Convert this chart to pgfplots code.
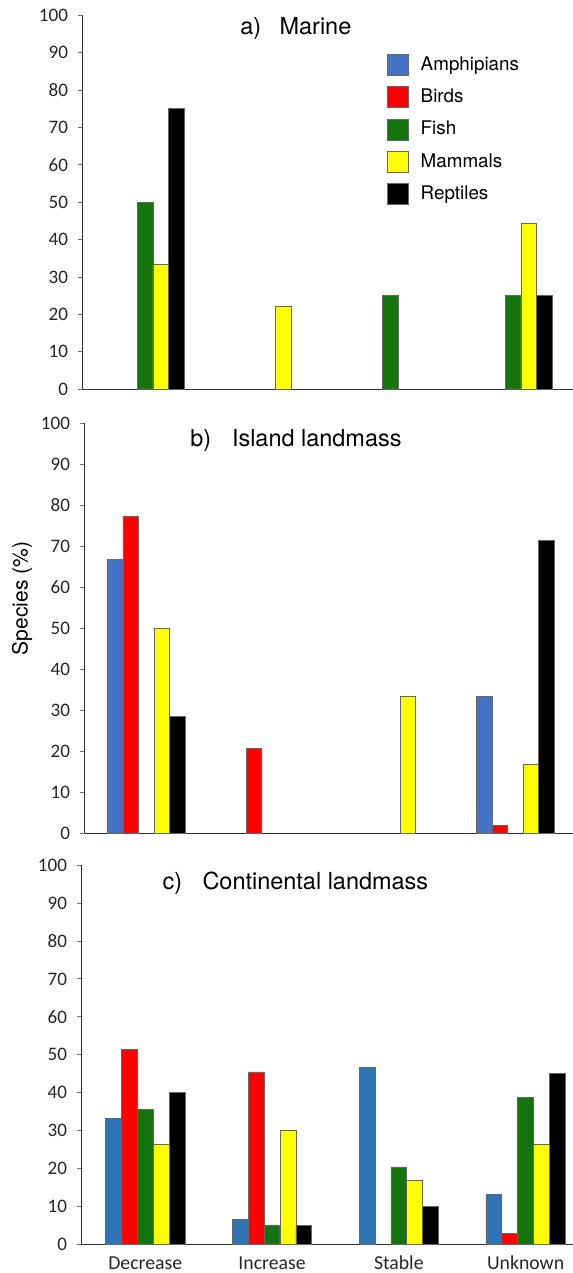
\documentclass[border=0pt]{standalone}
\usepackage{fontspec}
\setmainfont{TeX Gyre Heros}
\newfontfamily\carlito{Carlito}
\usepackage{pgfplots}
\usepackage{pgfplotstable}
\pgfplotsset{compat=1.18}
\definecolor{amphA}{RGB}{68,114,196}
\definecolor{amphC}{RGB}{46,117,182}
\definecolor{birdc}{RGB}{255,0,0}
\definecolor{fishc}{RGB}{22,116,14}
\definecolor{mammc}{RGB}{255,255,0}
\definecolor{reptc}{RGB}{0,0,0}
\definecolor{axisc}{RGB}{45,45,45}

\pgfplotstableread{
x amph bird fish mamm rept
0 nan nan 50 33.3 75
1 nan nan nan 22.2 nan
2 nan nan 25 nan nan
3 nan nan 25 44.4 25
}\tabA
\pgfplotstableread{
x amph bird fish mamm rept
0 66.7 77.3 nan 50 28.6
1 nan 20.7 nan nan nan
2 nan nan nan 33.3 nan
3 33.3 2.0 nan 16.7 71.4
}\tabB
\pgfplotstableread{
x amph bird fish mamm rept
0 33.3 51.5 35.7 26.5 40
1 6.7 45.5 5.2 30.2 5
2 46.7 nan 20.5 17.0 10
3 13.3 3.0 38.8 26.5 45
}\tabC

\pgfplotsset{
  panel/.style={
    scale only axis, ymin=0, ymax=100, ytick={0,10,...,100},
    axis x line=bottom, axis y line=left,
    axis line style={-, draw=axisc, line width=1.1pt},
    tick align=outside, major tick length=3.75pt,
    ytick style={draw=black!55, line width=0.6pt},
    xtick style={draw=none},
    yticklabel style={font=\carlito\fontsize{14.3}{14.3}\selectfont, text=black!85, anchor=east, inner sep=0pt, xshift=-7.1pt},
    /pgf/number format/assume math mode=true,
    clip=false,
  },
  bars/.style={ybar, draw=black!60, line width=0.5pt, forget plot},
}

\begin{document}
\begin{tikzpicture}
\path[use as bounding box] (0,0) rectangle (429.75pt,954.75pt);

% ---------- a) Marine ----------
\begin{axis}[panel,
  at={(62.03pt,662.78pt)}, anchor=south west,
  width=367.73pt, height=280.5pt,
  xmin=-0.508, xmax=3.488, xtick=\empty,
  legend image code/.code={\draw[#1] (0pt,-7.875pt) rectangle (15.75pt,7.875pt);},
  legend cell align=left,
  legend style={at={(0.6213,0.8965)}, anchor=north west, draw=none, fill=none,
    inner sep=0pt, outer sep=0pt, row sep=8pt,
    font=\fontsize{14.1}{14.1}\selectfont,
    nodes={inner sep=0pt, text height=12pt, text depth=4pt},
    /tikz/every odd column/.append style={column sep=8.8pt}},
]
\addlegendimage{fill=amphA, draw=black!60, line width=0.5pt}
\addlegendimage{fill=birdc, draw=black!60, line width=0.5pt}
\addlegendimage{fill=fishc, draw=black!60, line width=0.5pt}
\addlegendimage{fill=mammc, draw=black!60, line width=0.5pt}
\addlegendimage{fill=reptc, draw=black!60, line width=0.5pt}
\legend{Amphipians,Birds,Fish,Mammals,Reptiles}
\addplot[bars, bar width=11.7pt, bar shift=0pt, fill=fishc] table[x=x,y=fish] {\tabA};
\addplot[bars, bar width=11.7pt, bar shift=11.7pt, fill=mammc] table[x=x,y=mamm] {\tabA};
\addplot[bars, bar width=11.7pt, bar shift=23.4pt, fill=reptc] table[x=x,y=rept] {\tabA};
\end{axis}

% ---------- b) Island landmass ----------
\begin{axis}[panel,
  at={(63.53pt,329.78pt)}, anchor=south west,
  width=366.23pt, height=307.5pt,
  xmin=-0.4996, xmax=3.467, xtick=\empty,
]
\addplot[bars, bar width=11.63pt, bar shift=-23.25pt, fill=amphA] table[x=x,y=amph] {\tabB};
\addplot[bars, bar width=11.63pt, bar shift=-11.63pt, fill=birdc] table[x=x,y=bird] {\tabB};
\addplot[bars, bar width=11.63pt, bar shift=11.63pt, fill=mammc] table[x=x,y=mamm] {\tabB};
\addplot[bars, bar width=11.63pt, bar shift=23.25pt, fill=reptc] table[x=x,y=rept] {\tabB};
\end{axis}

% ---------- c) Continental landmass ----------
\begin{axis}[panel,
  at={(61.28pt,21.23pt)}, anchor=south west,
  width=368.48pt, height=284.78pt,
  xmin=-0.5008, xmax=3.374,
  xtick={0,1,2,3}, xticklabels={Decrease,Increase,Stable,Unknown},
  xticklabel style={font=\carlito\fontsize{14.8}{14.8}\selectfont, text=black!85, anchor=base, text depth=0pt, yshift=-15pt},
]
\addplot[bars, bar width=11.93pt, bar shift=-23.85pt, fill=amphC] table[x=x,y=amph] {\tabC};
\addplot[bars, bar width=11.93pt, bar shift=-11.93pt, fill=birdc] table[x=x,y=bird] {\tabC};
\addplot[bars, bar width=11.93pt, bar shift=0pt, fill=fishc] table[x=x,y=fish] {\tabC};
\addplot[bars, bar width=11.93pt, bar shift=11.93pt, fill=mammc] table[x=x,y=mamm] {\tabC};
\addplot[bars, bar width=11.93pt, bar shift=23.85pt, fill=reptc] table[x=x,y=rept] {\tabC};
\end{axis}

% titles
\begin{scope}[every node/.style={anchor=base west, inner sep=0pt, font=\fontsize{17.6}{17.6}\selectfont}]
\node at (180pt,928.5pt) {a)};
\node at (209.5pt,928.5pt) {Marine};
\node at (142.5pt,619.7pt) {b)};
\node at (173.8pt,619.7pt) {Island landmass};
\node at (121.7pt,287.25pt) {c)};
\node at (151.7pt,287.25pt) {Continental landmass};
\end{scope}
\node[rotate=90, inner sep=0pt, font=\fontsize{15.8}{15.8}\selectfont] at (16.5pt,506pt) {Species (\%)};
\end{tikzpicture}
\end{document}
